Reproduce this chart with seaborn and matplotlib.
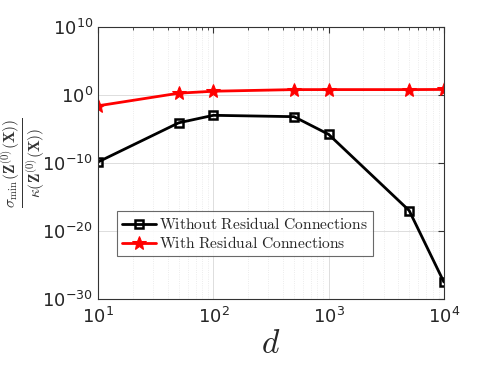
import numpy as np
import pandas as pd
import seaborn as sns
import matplotlib.pyplot as plt
from matplotlib.ticker import LogLocator, FixedLocator, NullFormatter

# data
d_vals = [10, 50, 100, 500, 1000, 5000, 10000]
without_res = [10**-9.85, 10**-4.1, 10**-3.0, 10**-3.2, 10**-5.8, 10**-17.0, 10**-27.5]
with_res = [10**-1.6, 10**0.25, 10**0.54, 10**0.78, 10**0.78, 10**0.78, 10**0.8]
x_ticks = [10, 100, 1000, 10000]
y_ticks = [1e-30, 1e-20, 1e-10, 1e0, 1e10]
x_ticklabels = [r'$10^{1}$', r'$10^{2}$', r'$10^{3}$', r'$10^{4}$']
y_ticklabels = [r'$10^{-30}$', r'$10^{-20}$', r'$10^{-10}$', r'$10^{0}$', r'$10^{10}$']

sns.set_style("white")
plt.rcParams['font.family'] = ['DejaVu Sans']
plt.rcParams['mathtext.fontset'] = 'cm'

fig = plt.figure(figsize=(4.91, 3.68), dpi=100)
ax = fig.add_axes([0.2, 0.1875, 0.704, 0.7395])

df1 = pd.DataFrame({'d': d_vals, 'v': without_res})
df2 = pd.DataFrame({'d': d_vals, 'v': with_res})

sns.lineplot(data=df1, x='d', y='v', ax=ax, color='black', lw=2,
             marker='s', markersize=6, markerfacecolor='none',
             markeredgecolor='black', markeredgewidth=1.8,
             label=r'$\mathrm{Without\ Residual\ Connections}$')
sns.lineplot(data=df2, x='d', y='v', ax=ax, color='red', lw=2,
             marker='*', markersize=10, markerfacecolor='red',
             markeredgecolor='red',
             label=r'$\mathrm{With\ Residual\ Connections}$')

ax.set_xscale('log')
ax.set_yscale('log')
ax.set_xlim(10, 1e4)
ax.set_ylim(1e-30, 1e10)

ax.xaxis.set_major_locator(FixedLocator(x_ticks))
ax.xaxis.set_minor_locator(LogLocator(base=10, subs=np.arange(2, 10), numticks=20))
ax.xaxis.set_minor_formatter(NullFormatter())
ax.yaxis.set_major_locator(FixedLocator(y_ticks))
ax.yaxis.set_minor_locator(FixedLocator([]))
ax.set_xticklabels(x_ticklabels)
ax.set_yticklabels(y_ticklabels)
for t in ax.get_xticklabels() + ax.get_yticklabels():
    t.set_math_fontfamily('dejavusans')
    t.set_color('#262626')

ax.grid(True, which='major', color='#dddddd', lw=0.7)
ax.grid(True, which='minor', axis='x', color='#e6e6e6', lw=0.6, ls=':')
ax.set_axisbelow(True)

ax.tick_params(which='both', direction='in', labelsize=13, color='#333333',
               top=True, right=True, length=4)
ax.tick_params(axis='x', pad=6)
ax.tick_params(which='minor', length=2)
for s in ax.spines.values():
    s.set_color('#333333')
    s.set_linewidth(0.8)

ax.set_xlabel(r'$d$', fontsize=24, labelpad=0)
ax.set_ylabel(r'$\frac{\sigma_{\min}(\mathbf{Z}^{(0)}(\mathbf{X}))}{\kappa(\mathbf{Z}^{(0)}(\mathbf{X}))}$',
              fontsize=16, color='#333333')
ax.yaxis.set_label_coords(-0.148, 0.5)

leg = ax.legend(loc='center left', bbox_to_anchor=(0.055, 0.24), fontsize=11.2,
                frameon=True, fancybox=False, edgecolor='#444444',
                handlelength=2.2, handletextpad=0.2, borderpad=0.3,
                labelspacing=0.2, borderaxespad=0)
leg.get_frame().set_linewidth(0.8)

fig.savefig('out.png', dpi=100)
